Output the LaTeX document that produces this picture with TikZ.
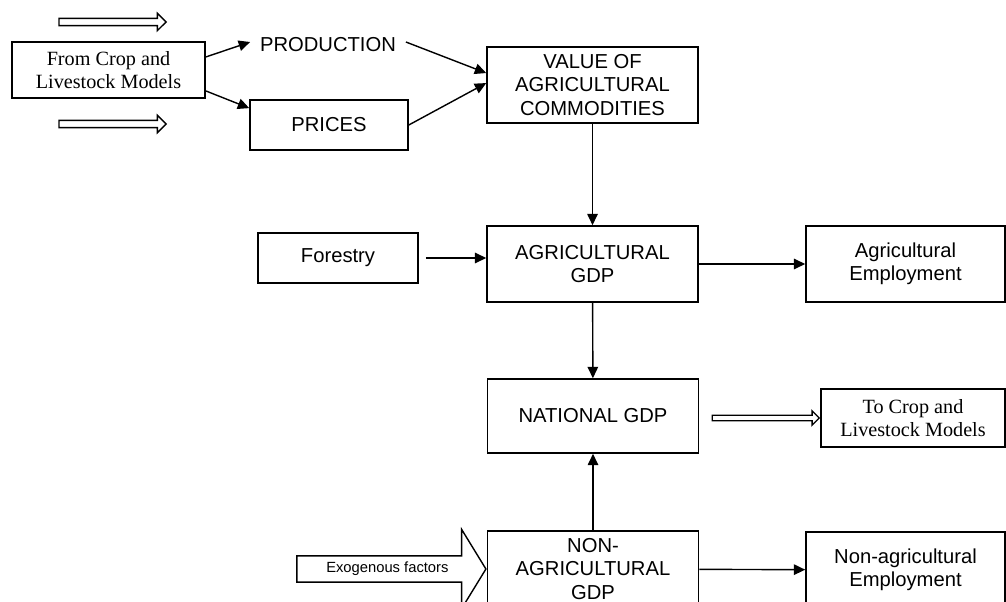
\documentclass[tikz,border=0pt]{standalone}
\usepackage{fontspec}
\setmainfont{Liberation Serif}
\setsansfont{Liberation Sans}
\usetikzlibrary{arrows.meta,shapes.arrows}
\tikzset{>={Triangle[length=6.5pt,width=6pt]}}
\tikzset{
  box/.style={draw, line width=0.9pt, align=center, inner sep=2pt,
    font=\sffamily\fontsize{11.5}{13.2}\selectfont},
  serifbox/.style={box, font=\rmfamily\fontsize{11.5}{13}\selectfont},
  hollow/.style={single arrow, draw, line width=0.8pt, inner xsep=0pt,
    inner ysep=1.7pt, single arrow head extend=2.8pt, minimum height=2.14cm},
  flow/.style={->, line width=0.8pt},
}

\begin{document}
\begin{tikzpicture}[x=0.02cm, y=-0.02cm]
        \useasboundingbox (0,0) rectangle (1006,601);

            % Inputs from the crop and livestock models
            \node[serifbox, minimum width=3.86cm, minimum height=1.12cm] (fromcrop) at (108.5,70) {From Crop and\\Livestock Models};
            \node[hollow, anchor=tip] (intop) at (167,22) {};
            \node[hollow, anchor=tip] (inbot) at (167,124) {};

            % Production and prices
            \node[font=\sffamily\fontsize{11.5}{13.2}\selectfont, inner xsep=5.5pt] (prod) at (328,45) {PRODUCTION};
            \node[box, minimum width=3.16cm, minimum height=1cm] (prices) at (329,125) {PRICES};

            % Value of commodities
            \node[box, minimum width=4.22cm, minimum height=1.52cm] (value) at (592.5,85) {VALUE OF\\AGRICULTURAL\\COMMODITIES};

            % Agricultural GDP row
            \node[box, minimum width=3.2cm, minimum height=1cm] (forestry) at (338,258) {Forestry};
            \node[box, minimum width=4.22cm, minimum height=1.52cm] (agrgdp) at (592.5,264) {AGRICULTURAL\\GDP};
            \node[box, minimum width=3.98cm, minimum height=1.52cm] (agremp) at (905.5,264) {Agricultural\\Employment};

            % National GDP row
            \node[box, minimum width=4.22cm, minimum height=1.48cm] (natgdp) at (593,416) {NATIONAL GDP};
            \node[serifbox, minimum width=3.68cm, minimum height=1.16cm] (tocrop) at (913,418) {To Crop and\\Livestock Models};
            \node[hollow, anchor=tip, inner ysep=1.15pt, single arrow head extend=2.5pt] (feedback) at (tocrop.west) {};

            % Non-agricultural GDP row
            \node[box, minimum width=4.22cm, minimum height=1.52cm] (nonagr) at (593,569) {NON-\\AGRICULTURAL\\GDP};
            \node[box, minimum width=3.98cm, minimum height=1.52cm] (nonemp) at (905.5,570) {Non-agricultural\\Employment};
            \node[single arrow, draw, line width=0.8pt, anchor=tip, font=\sffamily\fontsize{8.4}{9}\selectfont,
                  text height=6pt, text depth=1.7pt, inner ysep=3.25pt, minimum height=3.78cm,
                  single arrow head extend=15pt, single arrow tip angle=117] (exo) at (nonagr.west) {Exogenous factors};

            % Arrows
            \draw[flow] ([yshift=7.4pt]fromcrop.east) -- ([yshift=1.7pt]prod.west);
            \draw[flow] ([yshift=-11.9pt]fromcrop.east) -- ([yshift=9.6pt]prices.west);
            \draw[flow] ([yshift=1.7pt]prod.east) -- ([yshift=6.8pt]value.west);
            \draw[flow] (prices.east) -- ([yshift=1.1pt]value.west);
            \draw[flow] (value) -- (agrgdp);
            \draw[flow] ([xshift=4pt]forestry.east) -- (forestry.east -| agrgdp.west);
            \draw[flow] (agrgdp) -- (agremp);
            \draw[flow] (agrgdp) -- (natgdp);
            \draw[flow] (nonagr) -- (natgdp);
            \draw[flow] (nonagr) -- (nonemp);

        \end{tikzpicture}
\end{document}
